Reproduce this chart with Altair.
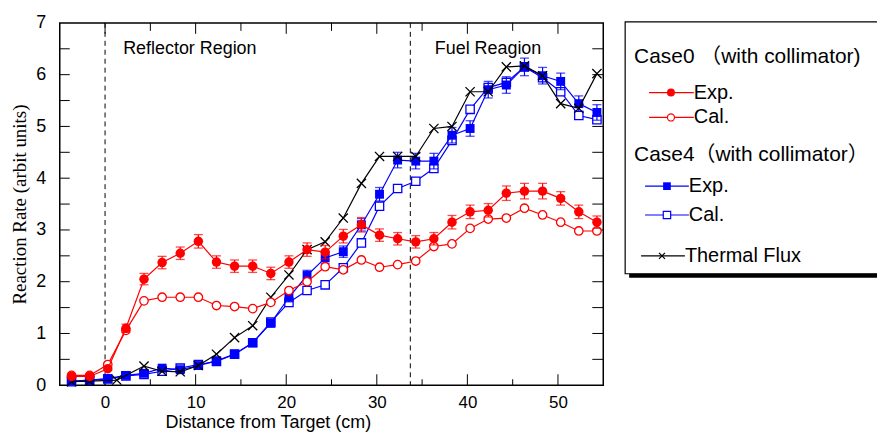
import altair as alt
import pandas as pd

# ---------------- data ----------------
x_pos = [-3.7, -1.7, 0.3, 2.3, 4.3, 6.3, 8.3, 10.3, 12.3, 14.3, 16.3, 18.3, 20.3, 22.3, 24.3,
         26.3, 28.3, 30.3, 32.3, 34.3, 36.3, 38.3, 40.3, 42.3, 44.3, 46.3, 48.3, 50.3, 52.3, 54.3]

case0_exp = [0.17, 0.17, 0.32, 1.10, 2.05, 2.37, 2.55, 2.78, 2.38, 2.30, 2.30, 2.16, 2.38, 2.62, 2.57,
             2.88, 3.10, 2.90, 2.83, 2.77, 2.83, 3.15, 3.35, 3.38, 3.71, 3.75, 3.75, 3.61, 3.35, 3.15]
case0_exp_err = [0.02, 0.02, 0.03, 0.08, 0.11, 0.12, 0.12, 0.13, 0.12, 0.12, 0.12, 0.12, 0.12, 0.13, 0.13,
                 0.13, 0.14, 0.12, 0.12, 0.12, 0.12, 0.13, 0.13, 0.13, 0.14, 0.15, 0.15, 0.13, 0.13, 0.12]
case0_cal = [0.19, 0.19, 0.40, 1.06, 1.63, 1.70, 1.70, 1.70, 1.54, 1.52, 1.48, 1.60, 1.83, 2.00, 2.29,
             2.23, 2.42, 2.28, 2.33, 2.40, 2.68, 2.73, 3.03, 3.21, 3.23, 3.42, 3.29, 3.15, 2.98, 2.98]

case4_exp = [0.08, 0.10, 0.13, 0.19, 0.23, 0.33, 0.30, 0.38, 0.47, 0.60, 0.82, 1.20, 1.70, 2.12, 2.46,
             2.58, 3.10, 3.69, 4.35, 4.33, 4.33, 4.83, 4.96, 5.71, 5.80, 6.15, 5.98, 5.87, 5.44, 5.27]
case4_exp_err = [0.01, 0.01, 0.02, 0.02, 0.02, 0.03, 0.03, 0.03, 0.04, 0.05, 0.06, 0.08, 0.09, 0.10, 0.11,
                 0.11, 0.12, 0.13, 0.15, 0.15, 0.15, 0.15, 0.15, 0.16, 0.16, 0.17, 0.16, 0.16, 0.15, 0.15]
case4_cal = [0.07, 0.10, 0.12, 0.18, 0.21, 0.27, 0.33, 0.40, 0.46, 0.60, 0.82, 1.22, 1.60, 1.83, 1.94,
             2.27, 2.75, 3.46, 3.80, 3.94, 4.19, 4.73, 5.33, 5.75, 5.85, 6.15, 5.94, 5.67, 5.21, 5.13]

flux_x = [-3.7, -1.7, 1.3, 4.3, 6.3, 8.3, 10.3, 12.3, 14.3, 16.3, 18.3, 20.3, 22.3, 24.3,
          26.3, 28.3, 30.3, 32.3, 34.3, 36.3, 38.3, 40.3, 42.3, 44.3, 46.3, 48.3, 50.3, 52.3, 54.3]
flux = [0.07, 0.08, 0.10, 0.37, 0.27, 0.26, 0.38, 0.60, 0.92, 1.15, 1.70, 2.13, 2.62, 2.77,
        3.23, 3.90, 4.42, 4.42, 4.42, 4.96, 5.00, 5.67, 5.67, 6.15, 6.17, 5.98, 5.44, 5.35, 6.02]

region_bounds = [0.0, 33.7]
region_labels = ["Reflector Region", "Fuel Reagion"]
region_label_x = [2.0, 36.4]
region_label_y = [6.5, 6.5]

x_label_ticks = [0, 10, 20, 30, 40, 50]
x_minor_ticks = [5, 15, 25, 35, 45]
y_label_ticks = [0, 1, 2, 3, 4, 5, 6, 7]
y_all_ticks = [0.5, 1, 1.5, 2, 2.5, 3, 3.5, 4, 4.5, 5, 5.5, 6, 6.5]

RED = "#ff0000"
BLUE = "#0000ff"
BLACK = "#000000"
W, H = 546, 364
SANS = "Liberation Sans"
LEG_FONT = "Liberation Sans, Noto Sans CJK SC"

# ---------------- frames ----------------
df0 = pd.DataFrame({"x": x_pos, "exp": case0_exp, "err": case0_exp_err, "cal": case0_cal})
df0["lo"] = df0["exp"] - df0["err"]
df0["hi"] = df0["exp"] + df0["err"]
df4 = pd.DataFrame({"x": x_pos, "exp": case4_exp, "err": case4_exp_err, "cal": case4_cal})
df4["lo"] = df4["exp"] - df4["err"]
df4["hi"] = df4["exp"] + df4["err"]
dff = pd.DataFrame({"x": flux_x, "y": flux})
dfb = pd.DataFrame({"x": region_bounds})
dfl = pd.DataFrame({"x": region_label_x, "y": region_label_y, "t": region_labels})
dxt = pd.DataFrame({"x": x_label_ticks})
dxm = pd.DataFrame({"x": x_minor_ticks})
dyt = pd.DataFrame({"y": y_all_ticks})
one = pd.DataFrame({"a": [0]})

xscale = alt.Scale(domain=[-5, 55], nice=False, zero=False)
yscale = alt.Scale(domain=[0, 7], nice=False)

xaxis = alt.Axis(values=x_label_ticks, ticks=False, tickSize=0, domain=False, grid=False,
                 labelFont=SANS, labelFontSize=17, labelColor="black", labelPadding=9,
                 title="Distance from Target (cm)", titleFont=SANS, titleFontSize=18,
                 titleFontWeight="normal", titleColor="black", titleX=209, titleY=42,
                 titleAlign="center", titleBaseline="alphabetic")
yaxis = alt.Axis(values=y_label_ticks, format="d", ticks=False, tickSize=0, domain=False, grid=False,
                 labelFont=SANS, labelFontSize=18, labelColor="black", labelPadding=14,
                 title="Reaction Rate (arbit units)", titleFont="Liberation Serif", titleFontSize=19,
                 titleFontWeight="normal", titleColor="black", titleAngle=270, titleX=-40, titleY=182,
                 titleAlign="center", titleBaseline="middle")


def X(f="x"):
    return alt.X(f"{f}:Q", scale=xscale, axis=xaxis)


def Y(f="y"):
    return alt.Y(f"{f}:Q", scale=yscale, axis=yaxis)


layers = []

# inward ticks
layers.append(alt.Chart(dxt).mark_rule(color="black", strokeWidth=1).encode(
    x=X(), y=alt.value(H - 11), y2=alt.value(H)))
layers.append(alt.Chart(dxt).mark_rule(color="black", strokeWidth=1).encode(
    x=X(), y=alt.value(0), y2=alt.value(11)))
layers.append(alt.Chart(dxm).mark_rule(color="black", strokeWidth=1).encode(
    x=X(), y=alt.value(H - 6), y2=alt.value(H)))
layers.append(alt.Chart(dxm).mark_rule(color="black", strokeWidth=1).encode(
    x=X(), y=alt.value(0), y2=alt.value(8)))
layers.append(alt.Chart(dyt).mark_rule(color="black", strokeWidth=1).encode(
    y=Y(), x=alt.value(0), x2=alt.value(10)))
layers.append(alt.Chart(dyt).mark_rule(color="black", strokeWidth=1).encode(
    y=Y(), x=alt.value(W - 11), x2=alt.value(W)))

# region boundaries
layers.append(alt.Chart(dfb).mark_rule(color="black", strokeWidth=1, strokeDash=[5, 4]).encode(x=X()))

# Case4 cal
layers.append(alt.Chart(df4).mark_line(color=BLUE, strokeWidth=1.2).encode(x=X(), y=Y("cal")))
layers.append(alt.Chart(df4).mark_point(shape="square", filled=True, fill="white", stroke=BLUE,
                                        strokeWidth=1.3, size=70, opacity=1).encode(x=X(), y=Y("cal")))
# Case4 exp
layers.append(alt.Chart(df4).mark_rule(color=BLUE, strokeWidth=1.2).encode(x=X(), y=Y("lo"), y2="hi:Q"))
layers.append(alt.Chart(df4).mark_tick(color=BLUE, orient="horizontal", size=9, thickness=1.3).encode(x=X(), y=Y("lo")))
layers.append(alt.Chart(df4).mark_tick(color=BLUE, orient="horizontal", size=9, thickness=1.3).encode(x=X(), y=Y("hi")))
layers.append(alt.Chart(df4).mark_line(color=BLUE, strokeWidth=1.2).encode(x=X(), y=Y("exp")))
layers.append(alt.Chart(df4).mark_point(shape="square", filled=True, color=BLUE, size=80, opacity=1).encode(x=X(), y=Y("exp")))

# Thermal flux
XPATH = "M-1,-1L1,1M1,-1L-1,1"
layers.append(alt.Chart(dff).mark_line(color=BLACK, strokeWidth=1.2).encode(x=X(), y=Y()))
layers.append(alt.Chart(dff).mark_point(shape=XPATH, filled=False, color=BLACK, strokeWidth=1.3,
                                        size=85, opacity=1).encode(x=X(), y=Y()))

# Case0 cal
layers.append(alt.Chart(df0).mark_line(color=RED, strokeWidth=1.2).encode(x=X(), y=Y("cal")))
layers.append(alt.Chart(df0).mark_point(shape="circle", filled=True, fill="white", stroke=RED,
                                        strokeWidth=1.3, size=72, opacity=1).encode(x=X(), y=Y("cal")))
# Case0 exp
layers.append(alt.Chart(df0).mark_rule(color=RED, strokeWidth=1.2).encode(x=X(), y=Y("lo"), y2="hi:Q"))
layers.append(alt.Chart(df0).mark_tick(color=RED, orient="horizontal", size=9, thickness=1.3).encode(x=X(), y=Y("lo")))
layers.append(alt.Chart(df0).mark_tick(color=RED, orient="horizontal", size=9, thickness=1.3).encode(x=X(), y=Y("hi")))
layers.append(alt.Chart(df0).mark_line(color=RED, strokeWidth=1.2).encode(x=X(), y=Y("exp")))
layers.append(alt.Chart(df0).mark_point(shape="circle", filled=True, color=RED, size=90, opacity=1).encode(x=X(), y=Y("exp")))

# region annotations
layers.append(alt.Chart(dfl).mark_text(align="left", baseline="middle", font=SANS, fontSize=18,
                                       color="black").encode(x=X(), y=Y(), text="t:N"))

# ---------------- legend (drawn) ----------------
layers.append(alt.Chart(one).mark_rect(color="black").encode(
    x=alt.value(572), x2=alt.value(840), y=alt.value(3), y2=alt.value(256)))
layers.append(alt.Chart(one).mark_rect(fill="white", stroke="black", strokeWidth=1.2).encode(
    x=alt.value(568), x2=alt.value(840), y=alt.value(-1), y2=alt.value(252)))

legend_items = [
    ("head", "Case0 （with collimator)", 34),
    ("red_exp", "Exp.", 70),
    ("red_cal", "Cal.", 95),
    ("head", "Case4（with collimator）", 133),
    ("blue_exp", "Exp.", 164),
    ("blue_cal", "Cal.", 193),
    ("flux", "Thermal Flux", 234),
]
for kind, txt, yy in legend_items:
    if kind == "head":
        layers.append(alt.Chart(one).mark_text(text=txt, align="left", baseline="middle", font=LEG_FONT,
                                               fontSize=21, color="black").encode(x=alt.value(577), y=alt.value(yy)))
        continue
    if kind.startswith("red"):
        x1, x2, xm, col = 592, 637, 614, RED
    elif kind.startswith("blue"):
        x1, x2, xm, col = 588, 632, 610, BLUE
    else:
        x1, x2, xm, col = 584, 628, 605, BLACK
    layers.append(alt.Chart(one).mark_rule(color=col, strokeWidth=1.2).encode(
        x=alt.value(x1), x2=alt.value(x2), y=alt.value(yy)))
    if kind == "red_exp":
        m = alt.Chart(one).mark_point(shape="circle", filled=True, color=RED, size=64, opacity=1)
    elif kind == "red_cal":
        m = alt.Chart(one).mark_point(shape="circle", filled=True, fill="white", stroke=RED, strokeWidth=1.2, size=50, opacity=1)
    elif kind == "blue_exp":
        m = alt.Chart(one).mark_point(shape="square", filled=True, color=BLUE, size=60, opacity=1)
    elif kind == "blue_cal":
        m = alt.Chart(one).mark_point(shape="square", filled=True, fill="white", stroke=BLUE, strokeWidth=1.2, size=55, opacity=1)
    else:
        m = alt.Chart(one).mark_point(shape=XPATH, filled=False, color=BLACK, strokeWidth=1.2, size=36, opacity=1)
    layers.append(m.encode(x=alt.value(xm), y=alt.value(yy)))
    layers.append(alt.Chart(one).mark_text(text=txt, align="left", baseline="middle", font=SANS,
                                           fontSize=20, color="black").encode(x=alt.value(x2), y=alt.value(yy)))

chart = alt.layer(*layers).properties(
    width=W, height=H,
    padding={"left": 52, "top": 14, "right": 275, "bottom": 46},
    autosize=alt.AutoSizeParams(type="none"),
    background="white",
).configure_view(stroke="black", strokeWidth=1.5)

chart.save("out.html", embed_options={"renderer": "svg", "actions": False})
